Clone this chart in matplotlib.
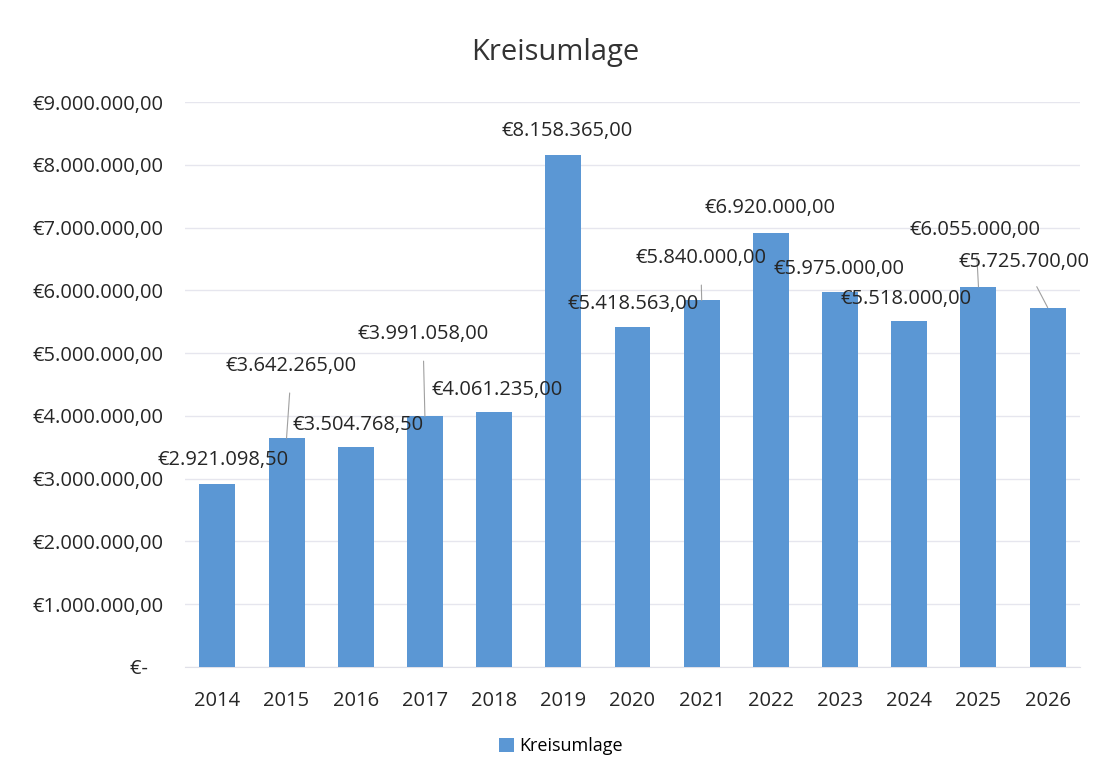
import matplotlib
matplotlib.use("Agg")
import matplotlib.pyplot as plt
from matplotlib.ticker import FuncFormatter, MultipleLocator

years = ["2014", "2015", "2016", "2017", "2018", "2019", "2020",
         "2021", "2022", "2023", "2024", "2025", "2026"]
values = [2921098.50, 3642265.00, 3504768.50, 3991058.00, 4061235.00,
          8158365.00, 5418563.00, 5840000.00, 6920000.00, 5975000.00,
          5518000.00, 6055000.00, 5725700.00]
series_name = "Kreisumlage"

# label offsets in pixels (dx, dy) from bar top, and leader-line flags
label_offsets = [(6, 24), (5, 72), (2, 22), (-2, 82), (3, 22), (4, 24), (1, 23),
                 (-1, 42), (-1, 25), (-1, 23), (-3, 22), (-3, 57), (-24, 46)]
leaders = [False, True, False, True, False, False, False,
           True, False, False, False, True, True]

FONT = "Open Sans"
plt.rcParams["font.family"] = [FONT, "DejaVu Sans"]

def de_fmt(v):
    s = f"{v:,.2f}"
    s = s.replace(",", "X").replace(".", ",").replace("X", ".")
    return "€" + s

fig = plt.figure(figsize=(11, 7.79), dpi=100)
ax = fig.add_axes([0.168, 0.1438, 0.814, 0.7252])

bar_color = "#5b97d4"
x = list(range(len(years)))
bars = ax.bar(x, values, width=0.52, color=bar_color, label=series_name, zorder=3)

ax.set_ylim(0, 9000000)
ax.set_xlim(-0.47, len(years) - 0.53)
ax.yaxis.set_major_locator(MultipleLocator(1000000))
ax.yaxis.set_major_formatter(FuncFormatter(lambda v, p: "€-   " if v == 0 else de_fmt(v)))
ax.set_xticks(x)
ax.set_xticklabels(years)
ax.tick_params(axis="both", length=0, labelsize=14.5, labelcolor="#262626")
ax.tick_params(axis="y", pad=15)
ax.tick_params(axis="x", pad=17)
ax.grid(axis="y", color="#e6e6ee", linewidth=1, zorder=0)
for sp in ["top", "right", "left"]:
    ax.spines[sp].set_visible(False)
ax.spines["bottom"].set_color("#e0e0e8")

for i, (v, (dx, dy), ld) in enumerate(zip(values, label_offsets, leaders)):
    kw = {}
    if ld:
        kw["arrowprops"] = dict(arrowstyle="-", color="#a0a0a0", lw=0.8,
                                shrinkA=10, shrinkB=0)
    ax.annotate(de_fmt(v), xy=(i, v), xytext=(dx, dy), textcoords="offset pixels",
                ha="center", va="center", fontsize=14.5, color="#262626", zorder=5, **kw)

fig.text(0.505, 0.933, "Kreisumlage", ha="center", va="center", fontsize=21, color="#333333")

fig.legend(handles=[bars], labels=[series_name], loc="center",
           bbox_to_anchor=(0.51, 0.042), frameon=False, fontsize=13,
           handlelength=0.8, handleheight=0.8, handletextpad=0.3)

fig.savefig("out.png", dpi=100, facecolor="white")
